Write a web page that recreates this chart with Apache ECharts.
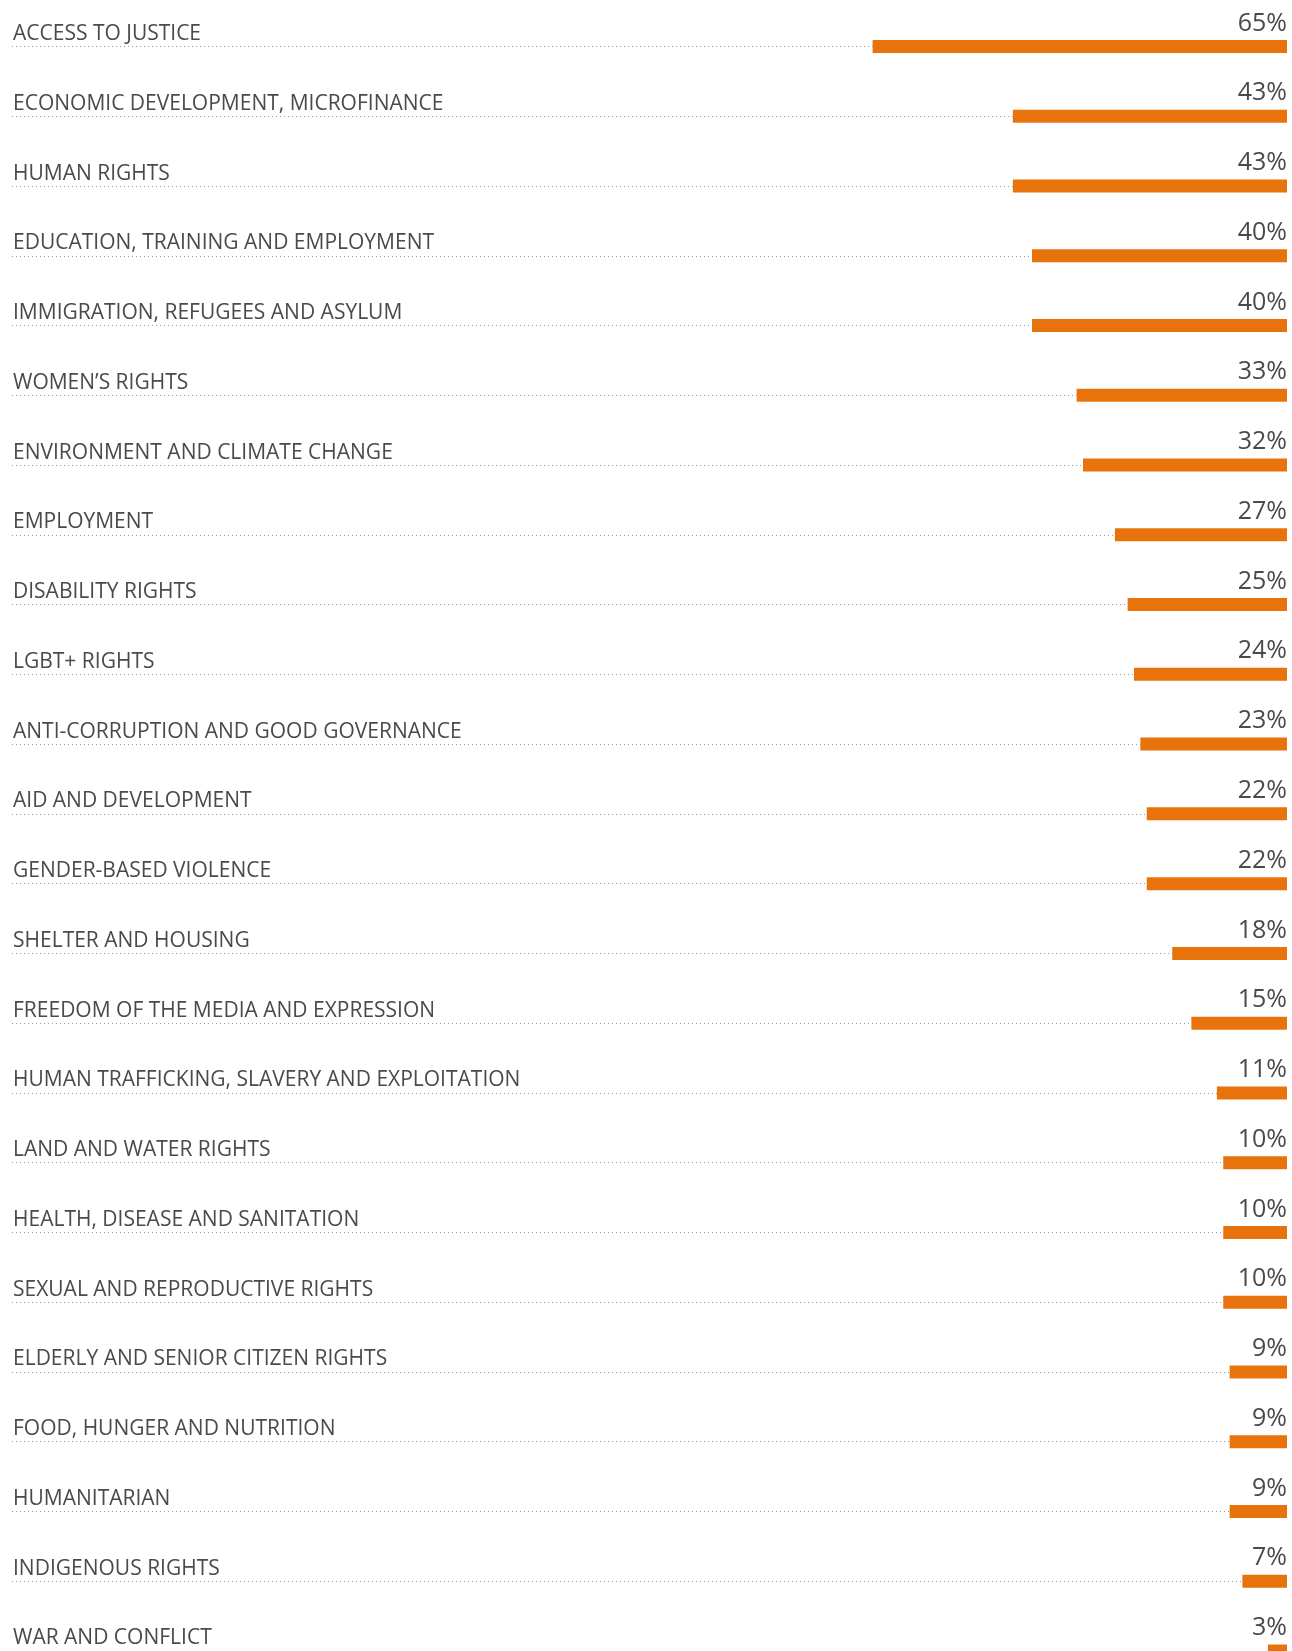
<!DOCTYPE html>
<html>
<head>
<meta charset="utf-8">
<script src="https://cdn.jsdelivr.net/npm/echarts@6/dist/echarts.min.js"></script>
<style>
html,body{margin:0;padding:0;background:#fff;}
#chart{width:1292px;height:1651px;}
</style>
</head>
<body>
<div id="chart"></div>
<script>
const categories = [
  "ACCESS TO JUSTICE",
  "ECONOMIC DEVELOPMENT, MICROFINANCE",
  "HUMAN RIGHTS",
  "EDUCATION, TRAINING AND EMPLOYMENT",
  "IMMIGRATION, REFUGEES AND ASYLUM",
  "WOMEN\u2019S RIGHTS",
  "ENVIRONMENT AND CLIMATE CHANGE",
  "EMPLOYMENT",
  "DISABILITY RIGHTS",
  "LGBT+ RIGHTS",
  "ANTI-CORRUPTION AND GOOD GOVERNANCE",
  "AID AND DEVELOPMENT",
  "GENDER-BASED VIOLENCE",
  "SHELTER AND HOUSING",
  "FREEDOM OF THE MEDIA AND EXPRESSION",
  "HUMAN TRAFFICKING, SLAVERY AND EXPLOITATION",
  "LAND AND WATER RIGHTS",
  "HEALTH, DISEASE AND SANITATION",
  "SEXUAL AND REPRODUCTIVE RIGHTS",
  "ELDERLY AND SENIOR CITIZEN RIGHTS",
  "FOOD, HUNGER AND NUTRITION",
  "HUMANITARIAN",
  "INDIGENOUS RIGHTS",
  "WAR AND CONFLICT"
];
const values = [65, 43, 43, 40, 40, 33, 32, 27, 25, 24, 23, 22, 22, 18, 15, 11, 10, 10, 10, 9, 9, 9, 7, 3];

const chart = echarts.init(document.getElementById('chart'), null, {renderer: 'canvas'});
chart.setOption({
  animation: false,
  backgroundColor: '#ffffff',
  grid: {left: 12, right: 5, top: 46.5, bottom: 0, containLabel: false},
  xAxis: {
    type: 'value', inverse: true, min: 0, max: 200,
    show: false
  },
  yAxis: {
    type: 'category', data: categories, inverse: true, boundaryGap: false,
    position: 'left',
    axisLine: {show: false}, axisTick: {show: false},
    splitLine: {show: true, lineStyle: {color: '#9a9a9a', width: 1, type: [1, 3]}},
    axisLabel: {
      inside: true, margin: 1, align: 'left', verticalAlign: 'bottom',
      fontFamily: 'Open Sans', fontSize: 21, color: '#4a4a4a',
      lineHeight: 21, padding: [0, 0, 2, 0]
    }
  },
  series: [{
    type: 'bar', data: values, barWidth: 13,
    itemStyle: {color: '#E8730C'},
    label: {
      show: true, position: ['100%', 0], align: 'right', verticalAlign: 'bottom',
      offset: [0, -4],
      formatter: p => p.value + '%',
      fontFamily: 'Open Sans', fontSize: 25, color: '#4a4a4a'
    }
  }]
});
</script>
</body>
</html>
